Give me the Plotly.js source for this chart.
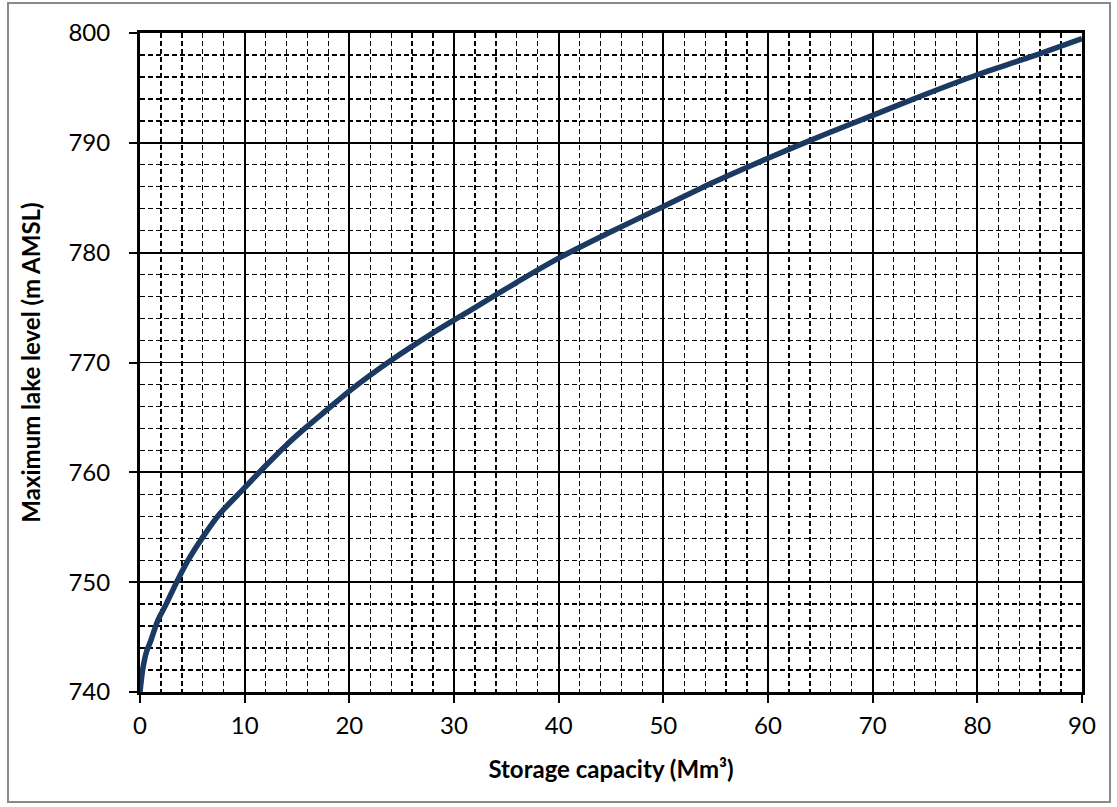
<!DOCTYPE html>
<html>
<head>
<meta charset="utf-8">
<script src="https://cdn.plot.ly/plotly-3.0.1.min.js"></script>
<style>
  html, body { margin: 0; padding: 0; background: #ffffff; }
  #chart { width: 1117px; height: 807px; }
  #frame { position: absolute; left: 7px; top: 2px; width: 1104px; height: 801px;
           border: 2px solid #8a8a8a; pointer-events: none; box-sizing: border-box; }
</style>
</head>
<body>
<div id="chart"></div>
<div id="frame"></div>
<script>
// Storage capacity (Mm³) vs maximum lake level (m AMSL)
const storageCapacity = [0, 0.25, 0.6, 1.0, 1.7, 2.5, 3.5, 4.6, 6, 7.6, 10, 12, 14, 16, 18, 20, 24, 28, 32, 36, 40, 45, 50, 55, 60, 65, 70, 75, 80, 85, 90];
const lakeLevel = [740, 742, 743.6, 744.6, 746.5, 748, 750, 752, 754.1, 756.2, 758.6, 760.6, 762.5, 764.2, 765.8, 767.4, 770.2, 772.7, 775.0, 777.3, 779.5, 781.9, 784.2, 786.5, 788.6, 790.6, 792.5, 794.4, 796.2, 797.8, 799.5];
const xTicks = [0, 10, 20, 30, 40, 50, 60, 70, 80, 90];
const yTicks = [740, 750, 760, 770, 780, 790, 800];
const xMinorGrid = [2, 4, 6, 8, 12, 14, 16, 18, 22, 24, 26, 28, 32, 34, 36, 38, 42, 44, 46, 48, 52, 54, 56, 58, 62, 64, 66, 68, 72, 74, 76, 78, 82, 84, 86, 88];
const yMinorGrid = [742, 744, 746, 748, 752, 754, 756, 758, 762, 764, 766, 768, 772, 774, 776, 778, 782, 784, 786, 788, 792, 794, 796, 798];

const fontFam = 'Lato, "Open Sans", sans-serif';
const xRange = [0, 90];
const yRange = [740, 800];

// empty trace so the dashed-grid subplot is created
const gridHolder = {
  x: [], y: [], xaxis: 'x', yaxis: 'y',
  type: 'scatter', mode: 'lines', hoverinfo: 'skip', showlegend: false
};

const trace = {
  x: storageCapacity,
  y: lakeLevel,
  xaxis: 'x2',
  yaxis: 'y2',
  type: 'scatter',
  mode: 'lines',
  line: { color: '#1b3a62', width: 5.5, shape: 'spline', smoothing: 0.8 },
  hoverinfo: 'x+y'
};

const minorAxis = {
  showline: false,
  showgrid: true,
  gridcolor: '#000000',
  gridwidth: 1.3,
  griddash: '5px,3px',
  zeroline: false,
  ticks: '',
  showticklabels: false
};

const majorAxis = {
  showline: true,
  mirror: true,
  linecolor: '#000000',
  linewidth: 3,
  showgrid: true,
  gridcolor: '#000000',
  gridwidth: 1.8,
  zeroline: false,
  ticks: 'outside',
  ticklen: 8,
  tickwidth: 2,
  tickcolor: '#000000',
  tickfont: { family: fontFam, size: 24, color: '#000000' }
};

const layout = {
  width: 1117,
  height: 807,
  margin: { l: 140, r: 35, t: 33, b: 115 },
  paper_bgcolor: '#ffffff',
  plot_bgcolor: '#ffffff',
  showlegend: false,
  xaxis: Object.assign({}, minorAxis, {
    range: xRange, tickmode: 'array', tickvals: xMinorGrid, anchor: 'y'
  }),
  yaxis: Object.assign({}, minorAxis, {
    range: yRange, tickmode: 'array', tickvals: yMinorGrid, anchor: 'x'
  }),
  xaxis2: Object.assign({}, majorAxis, {
    overlaying: 'x', side: 'bottom', anchor: 'y2',
    range: xRange,
    tickmode: 'array',
    tickvals: xTicks,
    ticktext: xTicks.map(String),
    ticklabelstandoff: 2,
    title: { text: 'Storage capacity (Mm³)', font: { family: fontFam, size: 24, color: '#000000', weight: 'bold' }, standoff: 24 }
  }),
  yaxis2: Object.assign({}, majorAxis, {
    overlaying: 'y', side: 'left', anchor: 'x2',
    range: yRange,
    tickmode: 'array',
    tickvals: yTicks,
    ticktext: yTicks.map(String),
    ticklabelstandoff: 14,
    title: { text: 'Maximum lake level (m AMSL)', font: { family: fontFam, size: 24, color: '#000000', weight: 'bold' }, standoff: 22 }
  })
};

Plotly.newPlot('chart', [gridHolder, trace], layout, { displayModeBar: false, staticPlot: true });
</script>
</body>
</html>
